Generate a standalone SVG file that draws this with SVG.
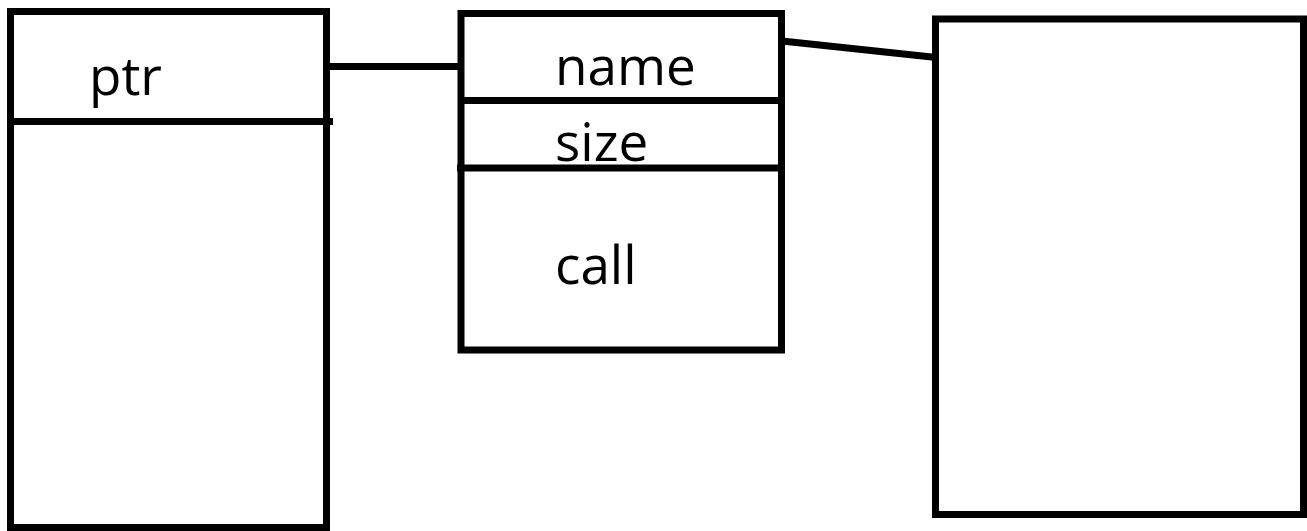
<svg xmlns="http://www.w3.org/2000/svg" width="1307" height="531" viewBox="0 0 1307 531">
  <style>
    .box { fill: #ffffff; stroke: #000000; stroke-width: 7; }
    .rule { stroke: #000000; stroke-width: 7; fill: none; }
    .wire { stroke: #000000; stroke-width: 7; fill: none; }
    .label { font-family: "Open Sans", "Liberation Sans", sans-serif; font-size: 53px; fill: #000000; }
  </style>
  <rect width="1307" height="531" fill="#ffffff"/>

  <!-- connectors -->
  <g id="connectors">
    <line class="wire" x1="329" y1="66.5" x2="461" y2="66.5"/>
    <line class="wire" x1="782" y1="41" x2="941" y2="58"/>
  </g>

  <!-- left block holding the pointer -->
  <g id="node-ptr">
    <rect class="box" x="10.5" y="11.5" width="316" height="516"/>
    <line class="rule" x1="10.5" y1="121.5" x2="333" y2="121.5"/>
    <text class="label" x="89" y="95">ptr</text>
  </g>

  <!-- middle record: name / size / call -->
  <g id="node-record">
    <rect class="box" x="461" y="13.5" width="320.5" height="336.5"/>
    <line class="rule" x1="461" y1="100.5" x2="781.5" y2="100.5"/>
    <line class="rule" x1="457" y1="168" x2="781.5" y2="168"/>
    <text class="label" x="555" y="85">name</text>
    <text class="label" x="555" y="161">size</text>
    <text class="label" x="555" y="284">call</text>
  </g>

  <!-- right block -->
  <g id="node-target">
    <rect class="box" x="935.5" y="19" width="368" height="495.5"/>
  </g>
</svg>
